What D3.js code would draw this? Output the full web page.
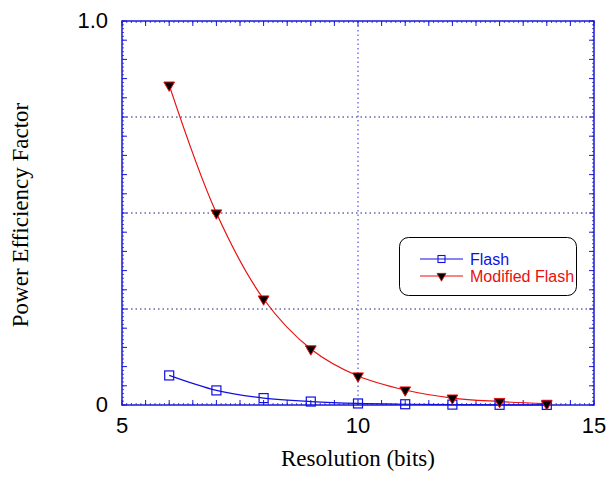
<!DOCTYPE html>
<html><head><meta charset="utf-8">
<script src="https://cdn.jsdelivr.net/npm/d3@7"></script>
<style>body{margin:0;background:#fff}</style>
</head><body>
<svg id="c" width="609" height="477"></svg>
<script>
const resolution = [6,7,8,9,10,11,12,13,14];
const flash = [0.077,0.038,0.018,0.009,0.004,0.002,0.001,0.0005,0.0002];
const modifiedFlash = [0.833,0.500,0.276,0.146,0.0755,0.039,0.018,0.009,0.003];
const xTickLabels = [5,10,15];
const yTickLabels = [{v:0,t:"0"},{v:1,t:"1.0"}];
const yGrid = [0.25,0.5,0.75];
const xGrid = [10];

const svg = d3.select("#c");
const L=122,R=594,T=21,B=405;
const x = d3.scaleLinear().domain([5,15]).range([L,R]);
const y = d3.scaleLinear().domain([0,1]).range([B,T]);
const axisCol = "#1a1ad8";
const sans = "'Liberation Sans', Arial, sans-serif";
const serif = "'Liberation Serif', 'Times New Roman', serif";

// grid
svg.selectAll(".yg").data(yGrid).enter().append("line")
  .attr("x1",L).attr("x2",R).attr("y1",d=>y(d)).attr("y2",d=>y(d))
  .attr("stroke","#1c1c70").attr("stroke-width",1).attr("stroke-dasharray","1.5,3");
svg.selectAll(".xg").data(xGrid).enter().append("line")
  .attr("y1",T).attr("y2",B).attr("x1",d=>x(d)).attr("x2",d=>x(d))
  .attr("stroke","#3030e0").attr("stroke-width",1).attr("stroke-dasharray","1.5,3");

// ticks
const xMaj = d3.range(5,15.001,0.5), xMin = d3.range(5,15.001,0.1);
const yMaj = d3.range(0,1.0001,0.05), yMin = d3.range(0,1.0001,0.01);
function ticks(vals,len,w){
  vals.forEach(v=>{
    const px=x(v);
    svg.append("line").attr("x1",px).attr("x2",px).attr("y1",B).attr("y2",B-len).attr("stroke",axisCol).attr("stroke-width",w);
    svg.append("line").attr("x1",px).attr("x2",px).attr("y1",T).attr("y2",T+len).attr("stroke",axisCol).attr("stroke-width",w);
  });
}
function yticks(vals,len,w){
  vals.forEach(v=>{
    const py=y(v);
    svg.append("line").attr("y1",py).attr("y2",py).attr("x1",L).attr("x2",L+len).attr("stroke",axisCol).attr("stroke-width",w);
    svg.append("line").attr("y1",py).attr("y2",py).attr("x1",R).attr("x2",R-len).attr("stroke",axisCol).attr("stroke-width",w);
  });
}
ticks(xMin,2,0.8); ticks(xMaj,5,1);
yticks(yMin,2,0.8); yticks(yMaj,5,1);

svg.append("rect").attr("x",L).attr("y",T).attr("width",R-L).attr("height",B-T)
  .attr("fill","none").attr("stroke",axisCol).attr("stroke-width",1.5);

// tick labels
svg.selectAll(".xl").data(xTickLabels).enter().append("text")
  .attr("x",d=>x(d)).attr("y",433).attr("text-anchor","middle")
  .attr("font-family",sans).attr("font-size",22).text(d=>d);
svg.selectAll(".yl").data(yTickLabels).enter().append("text")
  .attr("x",108).attr("y",d=>y(d.v)+7).attr("text-anchor","end")
  .attr("font-family",sans).attr("font-size",22).text(d=>d.t);

// axis titles
svg.append("text").attr("x",358).attr("y",466).attr("text-anchor","middle")
  .attr("font-family",serif).attr("font-size",23).text("Resolution (bits)");
svg.append("text").attr("transform","translate(28,215) rotate(-90)").attr("text-anchor","middle")
  .attr("font-family",serif).attr("font-size",23).text("Power Efficiency Factor");

// lines
const line = d3.line().x(d=>x(d[0])).y(d=>y(d[1])).curve(d3.curveCatmullRom.alpha(0.5));
const fData = resolution.map((r,i)=>[r,flash[i]]);
const mData = resolution.map((r,i)=>[r,modifiedFlash[i]]);
svg.append("path").attr("d",line(fData)).attr("fill","none").attr("stroke","#1010e0").attr("stroke-width",1.2);
svg.append("path").attr("d",line(mData)).attr("fill","none").attr("stroke","#e81010").attr("stroke-width",1.2);

const tri = d3.symbol().type(d3.symbolTriangle).size(50);
function sq(g,cx,cy){ g.append("rect").attr("x",cx-4.5).attr("y",cy-4.5).attr("width",9).attr("height",9)
  .attr("fill","none").attr("stroke","#1010e0").attr("stroke-width",1.2); }
function tr(g,cx,cy){ g.append("path").attr("d",tri()).attr("transform",`translate(${cx},${cy}) rotate(180)`)
  .attr("fill","#000").attr("stroke","#e81010").attr("stroke-width",1); }
fData.forEach(d=>sq(svg,x(d[0]),y(d[1])));
mData.forEach(d=>tr(svg,x(d[0]),y(d[1])));

// legend
svg.append("rect").attr("x",399.5).attr("y",237.5).attr("width",177).attr("height",58).attr("rx",9)
  .attr("fill","#fff").attr("stroke","#000").attr("stroke-width",1);
svg.append("line").attr("x1",420).attr("x2",463).attr("y1",259).attr("y2",259).attr("stroke","#1010e0").attr("stroke-width",1.2);
svg.append("rect").attr("x",438).attr("y",255.5).attr("width",7).attr("height",7).attr("fill","none").attr("stroke","#1010e0").attr("stroke-width",1.1);
svg.append("line").attr("x1",420).attr("x2",463).attr("y1",276).attr("y2",276).attr("stroke","#e81010").attr("stroke-width",1.2);
svg.append("path").attr("d",d3.symbol().type(d3.symbolTriangle).size(36)()).attr("transform","translate(441.5,276) rotate(180)").attr("fill","#000").attr("stroke","#e81010").attr("stroke-width",0.8);
svg.append("text").attr("x",470).attr("y",265).attr("font-family",sans).attr("font-size",16).attr("fill","#1010e0").text("Flash");
svg.append("text").attr("x",470).attr("y",282).attr("font-family",sans).attr("font-size",16).attr("fill","#e81010").text("Modified Flash");
</script>
</body></html>
